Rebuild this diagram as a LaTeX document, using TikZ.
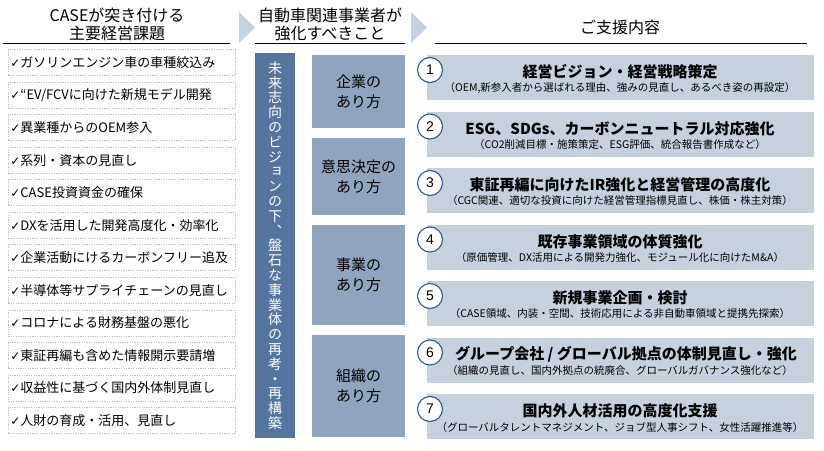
\documentclass[tikz,border=0pt]{standalone}
\usepackage{fontspec}
\setmainfont{Liberation Sans}
\newfontfamily\jp{Noto Sans CJK JP}
\newfontfamily\jpv[RawFeature=+vert]{Noto Sans CJK JP}
\newfontfamily\sym{DejaVu Sans}
\definecolor{chev}{RGB}{197,210,225}
\definecolor{darkbar}{RGB}{84,117,157}
\definecolor{catbox}{RGB}{143,165,191}
\definecolor{supbox}{RGB}{199,209,222}
\definecolor{ringc}{RGB}{46,88,138}
\definecolor{dotc}{RGB}{190,190,190}
\newcommand{\ck}{{\sym\fontsize{12}{14}\selectfont ✓}}
\tikzset{
  hdr/.style={font=\jp\fontsize{16}{18}\selectfont, align=center, inner sep=0pt},
  item/.style={draw=dotc, line width=0.7pt, dash pattern=on 1.2pt off 1.2pt,
    minimum width=227pt, minimum height=26pt, inner xsep=2pt, text width=223pt,
    align=left, anchor=west, font=\jp\fontsize{13}{15}\selectfont},
  cat/.style={fill=catbox, minimum width=93pt, align=center,
    font=\jp\fontsize{15}{20}\selectfont, inner sep=0pt},
  sup/.style={fill=supbox, minimum width=387pt, minimum height=45pt, inner sep=0pt},
  ttl/.style={font=\jp\bfseries\fontsize{15}{17}\selectfont, inner sep=0pt},
  sub/.style={font=\jp\fontsize{10.5}{12}\selectfont, inner sep=0pt},
  num/.style={circle, draw=ringc, line width=1.1pt, fill=white, minimum size=25pt,
    inner sep=0pt, font=\fontsize{14}{16}\selectfont},
  chevron/.style={fill=chev, draw=none}
}
\begin{document}
\begin{tikzpicture}[x=1pt,y=-1pt]
\useasboundingbox (0,0) rectangle (824,450);
\fill[white] (0,0) rectangle (824,450);

% headers
\node[hdr] (h1) at (117,24) {CASEが突き付ける\\主要経営課題};
\node[hdr] (h2) at (330,24) {自動車関連事業者が\\強化すべきこと};
\node[hdr] (h3) at (620,27) {ご支援内容};
\draw[line width=0.8pt] (3,43) -- (230,43);
\draw[line width=0.8pt] (255,43) -- (405,43);
\draw[line width=0.8pt] (435,43) -- (807,43);
\fill[chevron] (239,12) -- (255,27.5) -- (239,43) -- cycle;
\fill[chevron] (411,12) -- (427,27.5) -- (411,43) -- cycle;

% left items
\foreach \t [count=\i] in {
  ガソリンエンジン車の車種絞込み,
  “EV/FCVに向けた新規モデル開発,
  異業種からのOEM参入,
  系列・資本の見直し,
  CASE投資資金の確保,
  DXを活用した開発高度化・効率化,
  企業活動にけるカーボンフリー追及,
  半導体等サプライチェーンの見直し,
  コロナによる財務基盤の悪化,
  東証再編も含めた情報開示要請増,
  収益性に基づく国内外体制見直し,
  人財の育成・活用、見直し}
{
  \node[item] (li\i) at (8,{62.5+32.55*(\i-1)}) {\ck\t};
}

% middle vertical bar
\node[fill=darkbar, minimum width=40pt, minimum height=385pt, inner sep=0pt,
  text=white, align=center, font=\jpv\fontsize{14}{14.8}\selectfont] (bar) at (275,245.5)
  {未\\来\\志\\向\\の\\ビ\\ジ\\ョ\\ン\\の\\下\\、\\盤\\石\\な\\事\\業\\体\\の\\再\\考\\・\\再\\構\\築};

% categories
\node[cat, minimum height=73pt] (c1) at (358.5,91.5) {企業の\\あり方};
\node[cat, minimum height=77pt] (c2) at (358.5,176.5) {意思決定の\\あり方};
\node[cat, minimum height=100pt] (c3) at (358.5,275) {事業の\\あり方};
\node[cat, minimum height=102pt] (c4) at (358.5,386) {組織の\\あり方};

% support items
\foreach \tt/\ss/\dx [count=\i] in {
  {経営ビジョン・経営戦略策定}/{（OEM,新参入者から選ばれる理由、強みの見直し、あるべき姿の再設定）}/0,
  {ESG、SDGs、カーボンニュートラル対応強化}/{（CO2削減目標・施策策定、ESG評価、統合報告書作成など）}/0,
  {東証再編に向けたIR強化と経営管理の高度化}/{（CGC関連、適切な投資に向けた経営管理指標見直し、株価・株主対策）}/0,
  {既存事業領域の体質強化}/{（原価管理、DX活用による開発力強化、モジュール化に向けたM\&A）}/0,
  {新規事業企画・検討}/{（CASE領域、内装・空間、技術応用による非自動車領域と提携先探索）}/0,
  {グループ会社 / グローバル拠点の体制見直し・強化}/{（組織の見直し、国内外拠点の統廃合、グローバルガバナンス強化など）}/6,
  {国内外人材活用の高度化支援}/{（グローバルタレントマネジメント、ジョブ型人事シフト、女性活躍推進等）}/0}
{
  \pgfmathsetmacro{\ytop}{55+56.5*(\i-1)}
  \node[sup] (s\i) at (620.5,{\ytop+22.5}) {};
  \node[ttl] (t\i) at ({620+\dx},{\ytop+17}) {\tt};
  \node[sub] (u\i) at (620,{\ytop+33}) {\ss};
  \node[num] (n\i) at (430,{\ytop+15}) {\i};
}
\end{tikzpicture}
\end{document}
